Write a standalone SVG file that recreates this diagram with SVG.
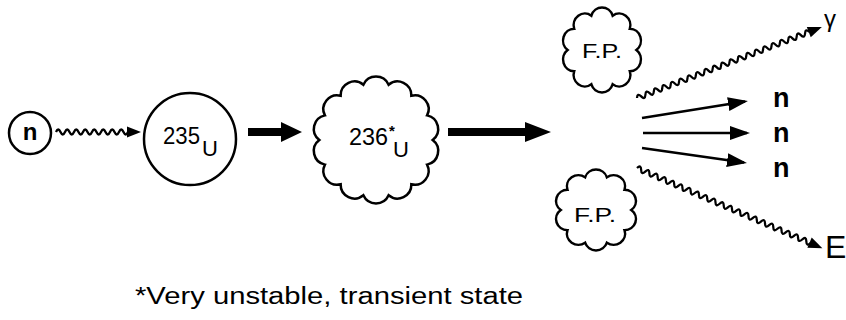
<svg xmlns="http://www.w3.org/2000/svg" xmlns:xlink="http://www.w3.org/1999/xlink" width="846" height="320" viewBox="0 0 846 320">
<style>
.ln{fill:none;stroke:#000;stroke-width:2.5}
.cl{fill:#fff;stroke:#000;stroke-width:2.5;vector-effect:non-scaling-stroke}
.wv{fill:none;stroke:#000;stroke-width:2.3}
.t{font-family:"Liberation Sans",Arial,Helvetica,sans-serif;fill:#000}
.b{font-weight:bold}
</style>
<defs>
<path id="cloud" class="cl" d="M0.9,0 A0.22,0.22 0 0 1 0.8109,0.3905 A0.22,0.22 0 0 1 0.5611,0.7036 A0.22,0.22 0 0 1 0.2003,0.8774 A0.22,0.22 0 0 1 -0.2003,0.8774 A0.22,0.22 0 0 1 -0.5611,0.7036 A0.22,0.22 0 0 1 -0.8109,0.3905 A0.22,0.22 0 0 1 -0.9,0 A0.22,0.22 0 0 1 -0.8109,-0.3905 A0.22,0.22 0 0 1 -0.5611,-0.7036 A0.22,0.22 0 0 1 -0.2003,-0.8774 A0.22,0.22 0 0 1 0.2003,-0.8774 A0.22,0.22 0 0 1 0.5611,-0.7036 A0.22,0.22 0 0 1 0.8109,-0.3905 A0.22,0.22 0 0 1 0.9,0 Z"/>
<path id="cloud10" class="cl" d="M0.86,0 A0.28,0.28 0 0 1 0.6958,0.5055 A0.28,0.28 0 0 1 0.2658,0.8179 A0.28,0.28 0 0 1 -0.2658,0.8179 A0.28,0.28 0 0 1 -0.6958,0.5055 A0.28,0.28 0 0 1 -0.86,0 A0.28,0.28 0 0 1 -0.6958,-0.5055 A0.28,0.28 0 0 1 -0.2658,-0.8179 A0.28,0.28 0 0 1 0.2658,-0.8179 A0.28,0.28 0 0 1 0.6958,-0.5055 A0.28,0.28 0 0 1 0.86,0 Z"/>
<path id="wh" d="M0,0 L-14,-5.5 L-14,5.5 Z"/>
<marker id="ah" markerUnits="userSpaceOnUse" markerWidth="22" markerHeight="16" refX="17" refY="7" orient="auto">
<path d="M0,0 L20,7 L0,14 Z" fill="#000"/>
</marker>
</defs>

<g id="neutron">
<circle cx="30" cy="133" r="21" class="ln"/>
<text x="30" y="140" class="t b" font-size="24" text-anchor="middle">n</text>
</g>

<g id="u235">
<circle cx="190" cy="139" r="46" class="ln"/>
<text x="163" y="144" class="t" font-size="24" textLength="37" lengthAdjust="spacingAndGlyphs">235</text>
<text x="202" y="156" class="t" font-size="22">U</text>
</g>

<g id="u236">
<use xlink:href="#cloud" transform="translate(376,140) scale(63)"/>
<text x="349" y="145" class="t" font-size="24" textLength="39" lengthAdjust="spacingAndGlyphs">236</text>
<text x="389" y="136" class="t b" font-size="15">*</text>
<text x="393" y="157" class="t" font-size="22">U</text>
</g>

<g id="fp-top">
<use xlink:href="#cloud10" transform="translate(602,50) scale(40,42)"/>
<text x="582" y="58" class="t" font-size="21" textLength="40" lengthAdjust="spacingAndGlyphs">F.P.</text>
</g>

<g id="fp-bottom">
<use xlink:href="#cloud10" transform="translate(596,210) scale(41,40)"/>
<text x="574" y="222" class="t" font-size="21" textLength="42" lengthAdjust="spacingAndGlyphs">F.P.</text>
</g>

<g id="labels">
<text x="773" y="107" class="t b" font-size="27">n</text>
<text x="773" y="142" class="t b" font-size="27">n</text>
<text x="773" y="177" class="t b" font-size="27">n</text>
<text x="824" y="27" class="t" font-size="24">γ</text>
<text x="825" y="258" class="t" font-size="32">E</text>
</g>

<g id="connectors">
<path class="wv" d="M56,132 q2.25,-5 4.5,0 t4.5,0 t4.5,0 t4.5,0 t4.5,0 t4.5,0 t4.5,0 t4.5,0 t4.5,0 t4.5,0 t4.5,0 t4.5,0 t4.5,0 t4.5,0 t4.5,0 t4.5,0"/>
<use xlink:href="#wh" transform="translate(141,132)"/>
<polygon points="248,128 281,128 281,122 302,132 281,142 281,136 248,136" fill="#000"/>
<polygon points="448,128 525,128 525,122 551,132 525,142 525,136 448,136" fill="#000"/>
<line class="ln" x1="642" y1="118" x2="745" y2="101.5" marker-end="url(#ah)"/>
<line class="ln" x1="643" y1="133" x2="747" y2="133" marker-end="url(#ah)"/>
<line class="ln" x1="642" y1="148" x2="744" y2="162.6" marker-end="url(#ah)"/>
<g transform="translate(637,98) rotate(-21)">
<path class="wv" d="M0,0 q2.25,-5 4.5,0 t4.5,0 t4.5,0 t4.5,0 t4.5,0 t4.5,0 t4.5,0 t4.5,0 t4.5,0 t4.5,0 t4.5,0 t4.5,0 t4.5,0 t4.5,0 t4.5,0 t4.5,0 t4.5,0 t4.5,0 t4.5,0 t4.5,0 t4.5,0 t4.5,0 t4.5,0 t4.5,0 t4.5,0 t4.5,0 t4.5,0 t4.5,0 t4.5,0 t4.5,0 t4.5,0 t4.5,0 t4.5,0 t4.5,0 t4.5,0 t4.5,0 t4.5,0 t4.5,0 t4.5,0 t4.5,0 t4.5,0"/>
<use xlink:href="#wh" transform="translate(198,0)"/>
</g>
<g transform="translate(637,168) rotate(23.4)">
<path class="wv" d="M0,0 q2.25,-5 4.5,0 t4.5,0 t4.5,0 t4.5,0 t4.5,0 t4.5,0 t4.5,0 t4.5,0 t4.5,0 t4.5,0 t4.5,0 t4.5,0 t4.5,0 t4.5,0 t4.5,0 t4.5,0 t4.5,0 t4.5,0 t4.5,0 t4.5,0 t4.5,0 t4.5,0 t4.5,0 t4.5,0 t4.5,0 t4.5,0 t4.5,0 t4.5,0 t4.5,0 t4.5,0 t4.5,0 t4.5,0 t4.5,0 t4.5,0 t4.5,0 t4.5,0 t4.5,0 t4.5,0 t4.5,0 t4.5,0 t4.5,0 t4.5,0"/>
<use xlink:href="#wh" transform="translate(202,0)"/>
</g>
</g>

<text x="135" y="304" class="t" font-size="23" textLength="388" lengthAdjust="spacingAndGlyphs">*Very unstable, transient state</text>
</svg>
